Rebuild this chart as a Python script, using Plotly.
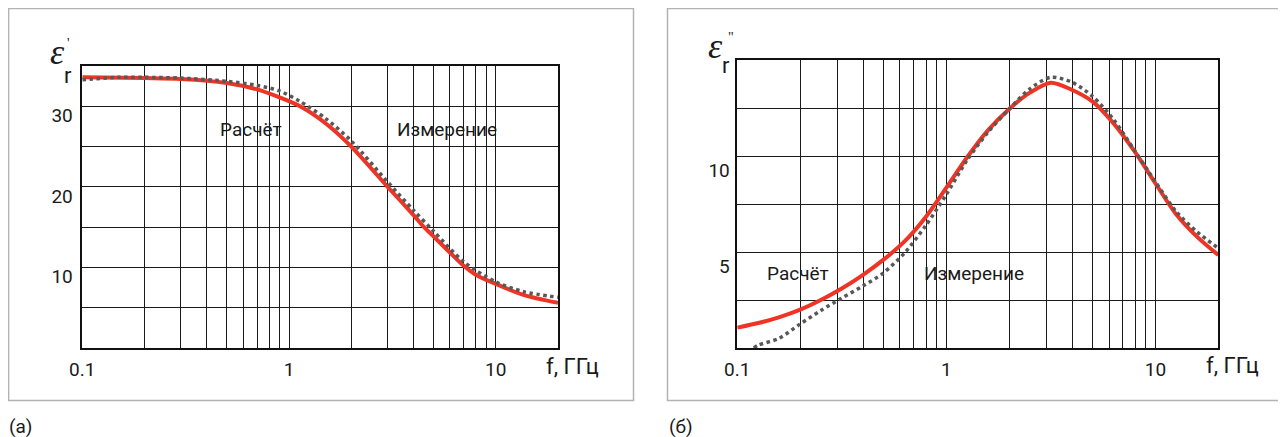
import plotly.graph_objects as go

# ---------------- data ----------------
# (a) real part eps'_r
f_calc_a = [0.1, 0.2, 0.3, 0.5, 0.7, 0.9, 1.13, 1.5, 2, 3, 4, 4.5, 5, 6, 7, 8, 10, 13.6, 20]
eps1_calc = [33.6, 33.5, 33.4, 32.9, 32.1, 31.1, 30.0, 27.9, 25.0, 20.0, 16.5, 15.0, 13.85, 11.85, 10.2, 9.1, 7.95, 6.6, 5.6]
f_meas_a = [0.1, 0.15, 0.2, 0.3, 0.5, 0.7, 0.9, 1.13, 1.5, 2, 3, 4, 5, 7, 10, 13.6, 20]
eps1_meas = [33.3, 33.6, 33.6, 33.5, 33.1, 32.6, 31.9, 30.6, 28.5, 25.7, 20.6, 17.1, 14.5, 10.7, 8.2, 7.0, 6.3]

# (б) imaginary part eps''_r
f_calc_b = [0.1, 0.126, 0.158, 0.2, 0.251, 0.316, 0.398, 0.501, 0.631, 0.794, 1.0, 1.26, 1.585, 2.0, 2.51, 3.16, 3.98, 5.01, 6.31, 7.94, 10.0, 12.6, 15.8, 20]
eps2_calc = [1.06, 1.3, 1.6, 2.0, 2.5, 3.1, 3.8, 4.6, 5.55, 6.8, 8.35, 9.95, 11.35, 12.45, 13.3, 13.82, 13.45, 12.83, 11.7, 10.25, 8.58, 6.95, 5.8, 4.84]
f_meas_b = [0.12, 0.126, 0.158, 0.2, 0.251, 0.316, 0.398, 0.501, 0.631, 0.794, 1.0, 1.26, 1.585, 2.0, 2.51, 3.16, 3.98, 5.01, 6.31, 7.94, 10.0, 12.6, 15.8, 20]
eps2_meas = [0.0, 0.15, 0.5, 1.25, 1.95, 2.6, 3.22, 3.92, 4.95, 6.35, 8.0, 9.8, 11.25, 12.45, 13.5, 14.1, 13.85, 13.1, 11.9, 10.3, 8.66, 7.1, 6.05, 5.2]

x_grid = [0.1, 0.2, 0.3, 0.4, 0.5, 0.6, 0.7, 0.8, 0.9, 1, 2, 3, 4, 5, 6, 7, 8, 9, 10, 20]
x_text = ["0.1"] + [""] * 8 + ["1"] + [""] * 8 + ["10", ""]
y_grid_a = [0, 5, 10, 15, 20, 25, 30, 35]
y_text_a = ["", "", "10", "", "20", "", "30", ""]
y_grid_b = [0, 2.5, 5, 7.5, 10, 12.5, 15]
y_text_b = ["", "", "5", "", "10", "", ""]

label_calc = "Расчёт"
label_meas = "Измерение"
x_title = "f, ГГц"

RED = "#ee3424"
GRAY = "#585858"
FONT = "Roboto"
TXT = "#1a1a1a"
W, H = 1286, 437
OFF = 8  # page body margin
FW, FH = W - OFF, H - OFF

fig = go.Figure()
fig.add_trace(go.Scatter(x=f_calc_a, y=eps1_calc, mode="lines", line=dict(color=RED, width=4, shape="spline", smoothing=0.8), xaxis="x", yaxis="y", showlegend=False))
fig.add_trace(go.Scatter(x=f_meas_a, y=eps1_meas, mode="lines", line=dict(color=GRAY, width=3.5, dash="dot", shape="spline", smoothing=0.8), xaxis="x", yaxis="y", showlegend=False))
fig.add_trace(go.Scatter(x=f_calc_b, y=eps2_calc, mode="lines", line=dict(color=RED, width=4, shape="spline", smoothing=0.8), xaxis="x2", yaxis="y2", showlegend=False))
fig.add_trace(go.Scatter(x=f_meas_b, y=eps2_meas, mode="lines", line=dict(color=GRAY, width=3.5, dash="dot", shape="spline", smoothing=0.8), xaxis="x2", yaxis="y2", showlegend=False))

def px(x):
    return (x - OFF) / FW

def py(y):
    return 1 - (y - OFF) / FH

xax = dict(type="log", range=[-1, 1.30103], tickvals=x_grid, ticktext=x_text,
           showgrid=True, gridcolor="#1a1a1a", gridwidth=1, zeroline=False,
           showline=True, linecolor="#111", linewidth=1.5, mirror=True, automargin=False,
           ticks="", ticklabelstandoff=3, tickfont=dict(family=FONT, size=19, color=TXT))
yax = dict(showgrid=True, gridcolor="#1a1a1a", gridwidth=1, zeroline=False,
           showline=True, linecolor="#111", linewidth=1.5, mirror=True, automargin=False,
           ticks="", tickfont=dict(family=FONT, size=19, color=TXT))

fig.update_layout(
    template="none",
    width=FW, height=FH, margin=dict(l=0, r=0, t=0, b=0, pad=0),
    paper_bgcolor="white", plot_bgcolor="white",
    xaxis=dict(xax, domain=[px(82.3), px(558)], anchor="y"),
    yaxis=dict(yax, domain=[py(348), py(66)], range=[0, 35], tickvals=y_grid_a, ticktext=y_text_a,
               anchor="x", ticklabelshift=9, ticklabelstandoff=4),
    xaxis2=dict(xax, domain=[px(737.3), px(1218.3)], anchor="y2"),
    yaxis2=dict(yax, domain=[py(348), py(60)], range=[0, 15], tickvals=y_grid_b, ticktext=y_text_b,
                anchor="x2", ticklabelshift=14, ticklabelstandoff=2),
)

shapes = [
    dict(type="rect", xref="paper", yref="paper", x0=px(8.6), x1=px(633.5), y0=py(400.5), y1=py(8.6), line=dict(color="#b3b3b3", width=1.5)),
    dict(type="rect", xref="paper", yref="paper", x0=px(667.5), x1=px(1290), y0=py(400.5), y1=py(8.6), line=dict(color="#b3b3b3", width=1.5)),
]
fig.update_layout(shapes=shapes)

def ann(text, x, y, size, family=FONT, xanchor="center", color=TXT):
    return dict(text=text, x=px(x), y=py(y), xref="paper", yref="paper", showarrow=False,
                xanchor=xanchor, yanchor="middle", font=dict(family=family, size=size, color=color))

annotations = [
    ann(label_calc, 251, 129, 19),
    ann(label_meas, 446.5, 130, 19),
    ann(label_calc, 798, 273, 19),
    ann(label_meas, 974, 273, 19),
    ann(x_title, 572.5, 366, 22),
    ann(x_title, 1232, 365, 22),
    ann("(a)", 7, 426, 19, xanchor="left"),
    ann("(б)", 667, 426, 19, xanchor="left"),
    # axis symbols
    ann("<i>ε</i>", 57.5, 52, 36, family="Liberation Serif"),
    ann("'", 68, 43, 14, family="Liberation Serif"),
    ann("r", 67.5, 75, 22),
    ann("<i>ε</i>", 715.5, 46, 36, family="Liberation Serif"),
    ann("\"", 731, 37, 14, family="Liberation Serif"),
    ann("r", 726, 66, 22),
]
fig.update_layout(annotations=annotations)

fig.write_html("out.html")
